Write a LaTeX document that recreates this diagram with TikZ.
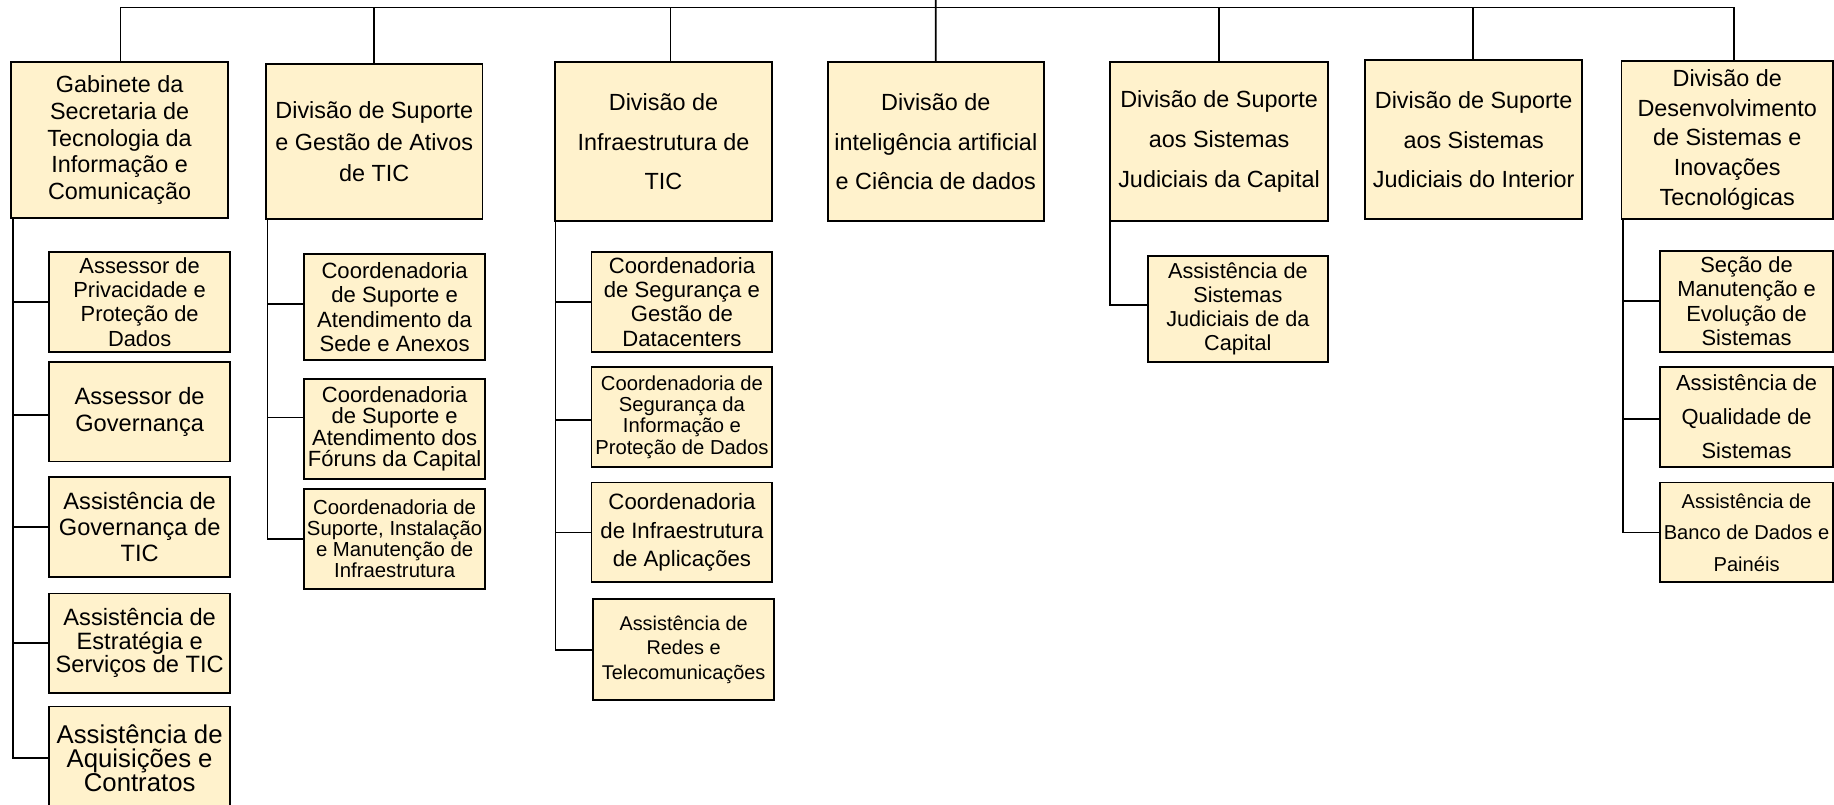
\documentclass[tikz,border=0pt]{standalone}
\usepackage{fontspec}
\setmainfont{Liberation Sans}
\definecolor{boxfill}{HTML}{FFF2CC}
\tikzset{
  orgbox/.style={draw=black, fill=boxfill, line width=1.5pt, inner sep=0pt, align=center},
  link/.style={draw=black, line width=1.5pt},
}
\newcommand{\fsz}[2]{\fontsize{#1}{#2}\selectfont}
\begin{document}
\begin{tikzpicture}[x=1pt,y=-1pt]
\useasboundingbox (0,0) rectangle (1568,688);
\clip (0,0) rectangle (1568,688);

% ---- top level ----
\node[orgbox, minimum width=185.5pt, minimum height=132.8pt, font=\fsz{20}{22.8}] (T1) at (102.25,119.7)
  {Gabinete da\\Secretaria de\\Tecnologia da\\Informação e\\Comunicação};
\node[orgbox, minimum width=185.2pt, minimum height=132.2pt, font=\fsz{20}{27}] (T2) at (320,121.1)
  {Divisão de Suporte\\e Gestão de Ativos\\de TIC};
\node[orgbox, minimum width=185.5pt, minimum height=135.7pt, font=\fsz{20}{34}] (T3) at (567.25,121.15)
  {Divisão de\\Infraestrutura de\\TIC};
\node[orgbox, minimum width=184.8pt, minimum height=135.7pt, font=\fsz{20}{34}] (T4) at (800.1,121.15)
  {Divisão de\\inteligência artificial\\e Ciência de dados};
\node[orgbox, minimum width=186.1pt, minimum height=135.7pt, font=\fsz{20}{34}] (T5) at (1042.25,121.15)
  {Divisão de Suporte\\aos Sistemas\\Judiciais da Capital};
\node[orgbox, minimum width=185.3pt, minimum height=135.6pt, font=\fsz{20}{34}] (T6) at (1259.95,119.4)
  {Divisão de Suporte\\aos Sistemas\\Judiciais do Interior};
\node[orgbox, minimum width=180.6pt, minimum height=135.3pt, font=\fsz{20}{25.4}] (T7) at (1476.7,119.55)
  {Divisão de\\Desenvolvimento\\de Sistemas e\\Inovações\\Tecnológicas};

% ---- Gabinete children ----
\node[orgbox, minimum width=154.4pt, minimum height=85.4pt, font=\fsz{18.7}{20.9}] (C11) at (119.4,258.1)
  {Assessor de\\Privacidade e\\Proteção de\\Dados};
\node[orgbox, minimum width=154.4pt, minimum height=85.2pt, font=\fsz{20.2}{23.2}] (C12) at (119.4,352)
  {Assessor de\\Governança};
\node[orgbox, minimum width=154.4pt, minimum height=85.6pt, font=\fsz{20.2}{22.4}] (C13) at (119.4,450.8)
  {Assistência de\\Governança de\\TIC};
\node[orgbox, minimum width=154.4pt, minimum height=84.8pt, font=\fsz{20.2}{20}] (C14) at (119.4,549.8)
  {Assistência de\\Estratégia e\\Serviços de TIC};
\node[orgbox, minimum width=154.4pt, minimum height=88pt, font=\fsz{22}{20.4}] (C15) at (119.4,648)
  {Assistência de\\Aquisições e\\Contratos};

% ---- Suporte e Gestão children ----
\node[orgbox, minimum width=154.4pt, minimum height=91pt, font=\fsz{18.9}{20.9}] (C21) at (337.4,262.4)
  {Coordenadoria\\de Suporte e\\Atendimento da\\Sede e Anexos};
\node[orgbox, minimum width=154.4pt, minimum height=85.4pt, font=\fsz{18.8}{18.3}] (C22) at (337.4,366.7)
  {Coordenadoria\\de Suporte e\\Atendimento dos\\Fóruns da Capital};
\node[orgbox, minimum width=154.4pt, minimum height=85.4pt, font=\fsz{17.4}{17.8}] (C23) at (337.4,460.7)
  {Coordenadoria de\\Suporte, Instalação\\e Manutenção de\\Infraestrutura};

% ---- Infraestrutura children ----
\node[orgbox, minimum width=154.5pt, minimum height=85.5pt, font=\fsz{18.9}{20.9}] (C31) at (583.05,258)
  {Coordenadoria\\de Segurança e\\Gestão de\\Datacenters};
\node[orgbox, minimum width=154.5pt, minimum height=86pt, font=\fsz{17.3}{18.2}] (C32) at (583.05,356.5)
  {Coordenadoria de\\Segurança da\\Informação e\\Proteção de Dados};
\node[orgbox, minimum width=154.5pt, minimum height=85.2pt, font=\fsz{19}{24.2}] (C33) at (583.05,455.2)
  {Coordenadoria\\de Infraestrutura\\de Aplicações};
\node[orgbox, minimum width=154.5pt, minimum height=86pt, font=\fsz{17}{21.1}] (C34) at (584.45,555.4)
  {Assistência de\\Redes e\\Telecomunicações};

% ---- Capital child ----
\node[orgbox, minimum width=154pt, minimum height=90.6pt, font=\fsz{18.5}{20.6}] (C51) at (1058.3,263.9)
  {Assistência de\\Sistemas\\Judiciais de da\\Capital};

% ---- Desenvolvimento children ----
\node[orgbox, minimum width=148.1pt, minimum height=86.4pt, font=\fsz{18.7}{20.6}] (C71) at (1493.25,257.5)
  {Seção de\\Manutenção e\\Evolução de\\Sistemas};
\node[orgbox, minimum width=148.1pt, minimum height=85pt, font=\fsz{18.7}{29.2}] (C72) at (1493.25,356.5)
  {Assistência de\\Qualidade de\\Sistemas};
\node[orgbox, minimum width=148.1pt, minimum height=85.2pt, font=\fsz{17.2}{27}] (C73) at (1493.25,455.2)
  {Assistência de\\Banco de Dados e\\Painéis};

% ---- top connectors ----
\coordinate (top) at (800,0);
\coordinate (b1) at (103,6.5);
\coordinate (b2) at (319.8,6.5);
\coordinate (b3) at (573.2,6.5);
\coordinate (b5) at (1042.5,6.5);
\coordinate (b6) at (1259.4,6.5);
\coordinate (b7) at (1482.8,6.5);
\draw[link] (b1 |- T1.north) -- (b1) -- (b7) -- (b7 |- T7.north);
\draw[link] (top) -- (T4.north);
\draw[link] (b2) -- (b2 |- T2.north);
\draw[link] (b3) -- (b3 |- T3.north);
\draw[link] (b5) -- (b5 |- T5.north);
\draw[link] (b6) -- (b6 |- T6.north);

% ---- spines ----
\coordinate (s1) at (11.4,0);
\coordinate (s2) at (228.8,0);
\coordinate (s3) at (475,0);
\coordinate (s5) at (949.2,0);
\coordinate (s7) at (1387.8,0);

\coordinate (C12w) at ([yshift=-2.8pt]C12.west);
\draw[link] (s1 |- T1.south) |- (C15.west);
\draw[link] (s1 |- C11.west) -- (C11.west);
\draw[link] (s1 |- C12w) -- (C12w);
\draw[link] (s1 |- C13.west) -- (C13.west);
\draw[link] (s1 |- C14.west) -- (C14.west);

\coordinate (C21w) at ([yshift=2.6pt]C21.west);
\coordinate (C22w) at ([yshift=9.7pt]C22.west);
\draw[link] (s2 |- T2.south) |- (C23.west);
\draw[link] (s2 |- C21w) -- (C21w);
\draw[link] (s2 |- C22w) -- (C22w);

\coordinate (C32w) at ([yshift=-2.5pt]C32.west);
\draw[link] (s3 |- T3.south) |- (C34.west);
\draw[link] (s3 |- C31.west) -- (C31.west);
\draw[link] (s3 |- C32w) -- (C32w);
\draw[link] (s3 |- C33.west) -- (C33.west);

\coordinate (C51w) at ([yshift=3pt]C51.west);
\draw[link] (s5 |- T5.south) |- (C51w);

\coordinate (C72w) at ([yshift=-2pt]C72.west);
\draw[link] (s7 |- T7.south) |- (C73.west);
\draw[link] (s7 |- C71.west) -- (C71.west);
\draw[link] (s7 |- C72w) -- (C72w);
\end{tikzpicture}
\end{document}
